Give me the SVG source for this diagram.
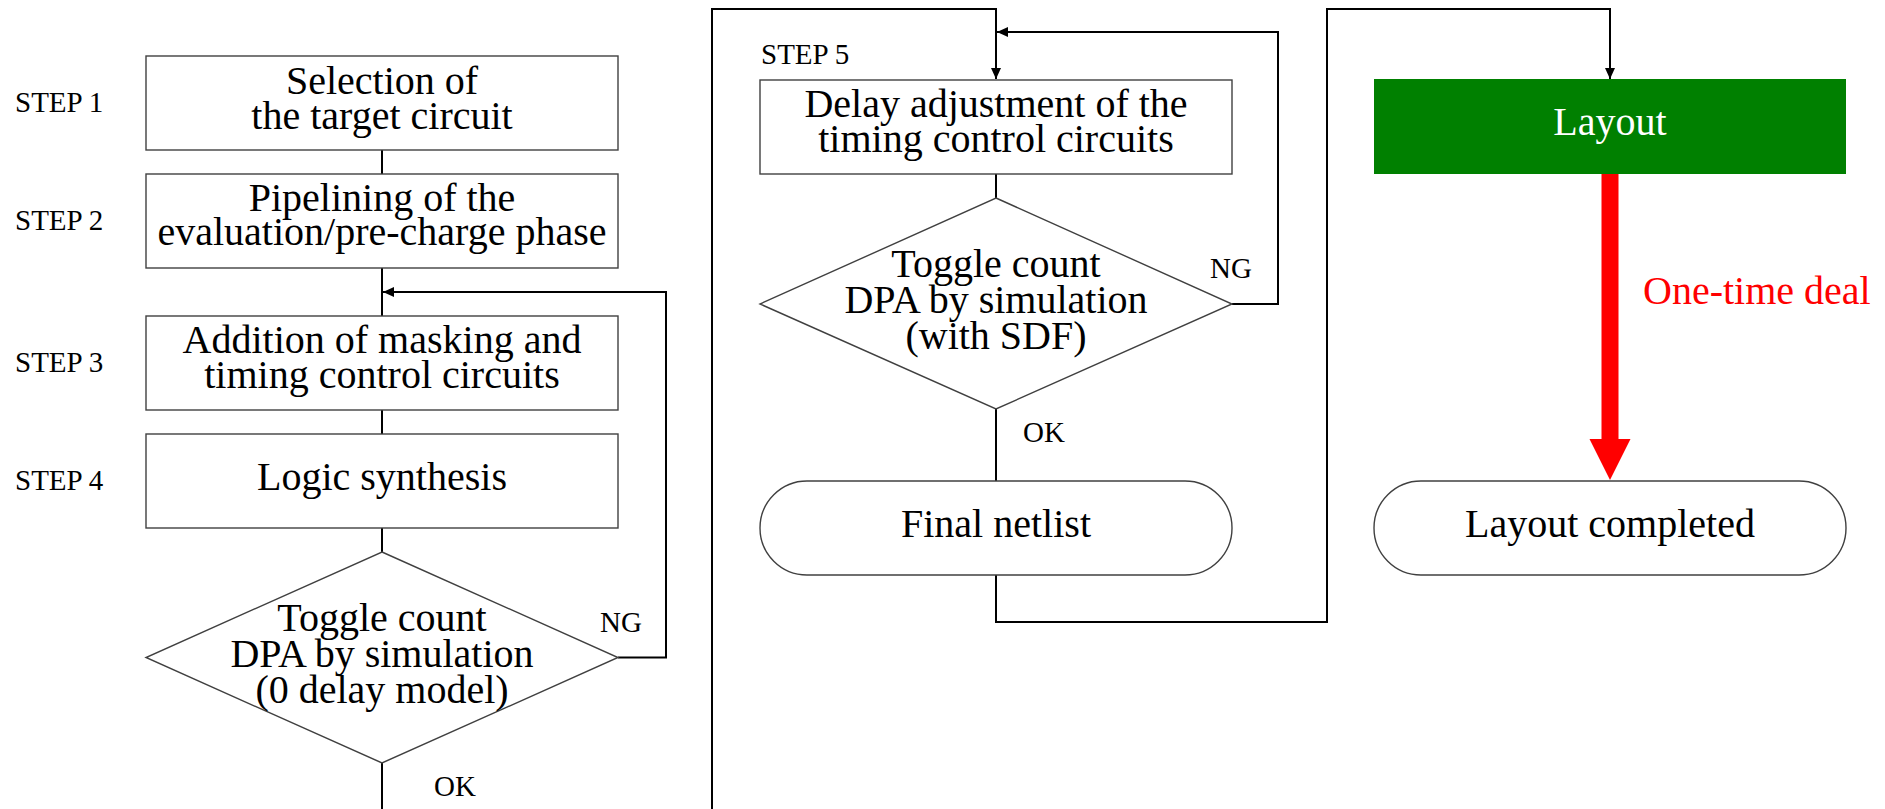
<svg xmlns="http://www.w3.org/2000/svg" width="1885" height="809" viewBox="0 0 1885 809">
  <style>
    .box { fill: #ffffff; stroke: #404040; stroke-width: 1.4; }
    .txt { font-family: "Liberation Serif", "Times New Roman", serif; font-size: 40px; fill: #000000; text-anchor: middle; }
    .lbl { font-family: "Liberation Serif", "Times New Roman", serif; font-size: 29px; fill: #000000; }
    .wire { fill: none; stroke: #000000; stroke-width: 2; }
  </style>
  <defs>
    <marker id="arrow" markerUnits="userSpaceOnUse" markerWidth="12" markerHeight="11" refX="11" refY="5" orient="auto">
      <path d="M0,0 L11,5 L0,10 z" fill="#000000"/>
    </marker>
  </defs>
  <rect x="0" y="0" width="1885" height="809" fill="#ffffff"/>

  <!-- connectors -->
  <g id="connectors">
    <!-- left column vertical flow -->
    <line class="wire" x1="382" y1="150" x2="382" y2="174"/>
    <line class="wire" x1="382" y1="268" x2="382" y2="316"/>
    <line class="wire" x1="382" y1="410" x2="382" y2="434"/>
    <line class="wire" x1="382" y1="528" x2="382" y2="552"/>
    <line class="wire" x1="382" y1="763" x2="382" y2="809"/>
    <!-- NG loop back to step 3 -->
    <polyline class="wire" points="618,657.5 666,657.5 666,292 383,292" marker-end="url(#arrow)"/>
    <!-- continuation into step 5 -->
    <polyline class="wire" points="712,809 712,9 996,9 996,79" marker-end="url(#arrow)"/>
    <!-- middle column flow -->
    <line class="wire" x1="996" y1="174" x2="996" y2="198"/>
    <line class="wire" x1="996" y1="409" x2="996" y2="481"/>
    <polyline class="wire" points="1232,304 1278,304 1278,32 997,32" marker-end="url(#arrow)"/>
    <!-- final netlist to layout -->
    <polyline class="wire" points="996,575 996,622 1327,622 1327,9 1610,9 1610,79" marker-end="url(#arrow)"/>
    <!-- one-time deal arrow -->
    <rect x="1601.5" y="174" width="17" height="266" fill="#ff0000"/>
    <polygon points="1589.5,439 1630.5,439 1610,480" fill="#ff0000"/>
  </g>

  <!-- step labels -->
  <g id="step-labels">
    <text class="lbl" x="15" y="112">STEP 1</text>
    <text class="lbl" x="15" y="230">STEP 2</text>
    <text class="lbl" x="15" y="372">STEP 3</text>
    <text class="lbl" x="15" y="490">STEP 4</text>
    <text class="lbl" x="761" y="64">STEP 5</text>
  </g>

  <g id="step1">
    <rect class="box" x="146" y="56" width="472" height="94"/>
    <text class="txt" x="382" y="94">Selection of<tspan x="382" dy="35">the target circuit</tspan></text>
  </g>

  <g id="step2">
    <rect class="box" x="146" y="174" width="472" height="94"/>
    <text class="txt" x="382" y="211">Pipelining of the<tspan x="382" dy="34">evaluation/pre-charge phase</tspan></text>
  </g>

  <g id="step3">
    <rect class="box" x="146" y="316" width="472" height="94"/>
    <text class="txt" x="382" y="353">Addition of masking and<tspan x="382" dy="35">timing control circuits</tspan></text>
  </g>

  <g id="step4">
    <rect class="box" x="146" y="434" width="472" height="94"/>
    <text class="txt" x="382" y="490">Logic synthesis</text>
  </g>

  <g id="check1">
    <polygon class="box" points="382,552 618,657.5 382,763 146,657.5"/>
    <text class="txt" x="382" y="630.5">Toggle count<tspan x="382" dy="36">DPA by simulation</tspan><tspan x="382" dy="36">(0 delay model)</tspan></text>
    <text class="lbl" x="600" y="632">NG</text>
    <text class="lbl" x="434" y="796">OK</text>
  </g>

  <g id="step5">
    <rect class="box" x="760" y="80" width="472" height="94"/>
    <text class="txt" x="996" y="117">Delay adjustment of the<tspan x="996" dy="35">timing control circuits</tspan></text>
  </g>

  <g id="check2">
    <polygon class="box" points="996,198 1232,304 996,409 760,304"/>
    <text class="txt" x="996" y="276.5">Toggle count<tspan x="996" dy="36">DPA by simulation</tspan><tspan x="996" dy="36">(with SDF)</tspan></text>
    <text class="lbl" x="1210" y="278">NG</text>
    <text class="lbl" x="1023" y="442">OK</text>
  </g>

  <g id="final-netlist">
    <rect class="box" x="760" y="481" width="472" height="94" rx="47" ry="47"/>
    <text class="txt" x="996" y="537">Final netlist</text>
  </g>

  <g id="layout">
    <rect x="1374" y="79" width="472" height="95" fill="#008000"/>
    <text class="txt" x="1610" y="135" style="fill:#ffffff">Layout</text>
  </g>

  <g id="one-time-deal">
    <text class="txt" x="1643" y="304" style="fill:#ff0000;text-anchor:start">One-time deal</text>
  </g>

  <g id="layout-completed">
    <rect class="box" x="1374" y="481" width="472" height="94" rx="47" ry="47"/>
    <text class="txt" x="1610" y="537">Layout completed</text>
  </g>
</svg>
